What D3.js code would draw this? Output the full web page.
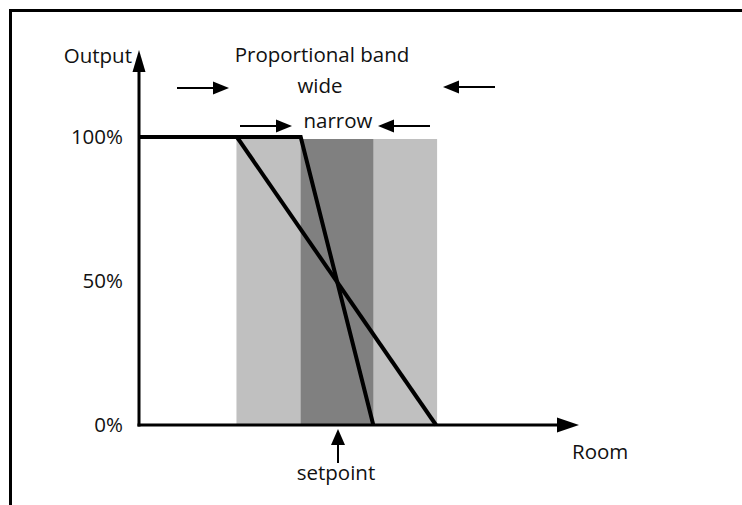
<!DOCTYPE html>
<html>
<head>
<meta charset="utf-8">
<script src="https://cdn.jsdelivr.net/npm/d3@7"></script>
<style>
  html, body { margin: 0; padding: 0; background: #fff; }
  svg { display: block; }
  text { font-family: "Open Sans", "Noto Sans", sans-serif; fill: #111; }
</style>
</head>
<body>
<svg id="chart" width="742" height="505"></svg>
<script>
// ---- data ----
const outputTicks = [0, 50, 100];
const outputTickLabels = ["0%", "50%", "100%"];
const setpoint = 0;
const wideBand = [-4.57, 4.55];
const narrowBand = [-1.65, 1.65];
const wideLine = [[-4.55, 100], [4.5, 0]];
const narrowLine = [[-9, 100], [-1.65, 100], [1.65, 0]];
const xDomain = [-9, 11];
const yDomain = [0, 100];
const yAxisTop = 130.2;

const svg = d3.select("#chart");
const x = d3.scaleLinear().domain(xDomain).range([139, 579]);
const y = d3.scaleLinear().domain(yDomain).range([425, 137]);

// frame
svg.append("line").attr("x1", 9).attr("x2", 742).attr("y1", 10.5).attr("y2", 10.5)
  .attr("stroke", "#000").attr("stroke-width", 3);
svg.append("line").attr("x1", 10.5).attr("x2", 10.5).attr("y1", 9).attr("y2", 505)
  .attr("stroke", "#000").attr("stroke-width", 3);

// bands
svg.append("rect").attr("x", x(wideBand[0])).attr("y", y(100) + 2)
  .attr("width", x(wideBand[1]) - x(wideBand[0])).attr("height", y(0) - y(100) - 2)
  .attr("fill", "#c0c0c0");
svg.append("rect").attr("x", x(narrowBand[0])).attr("y", y(100) + 2)
  .attr("width", x(narrowBand[1]) - x(narrowBand[0])).attr("height", y(0) - y(100) - 2)
  .attr("fill", "#808080");

// response lines
const line = d3.line().x(d => x(d[0])).y(d => y(d[1]));
svg.append("path").attr("d", line(wideLine)).attr("fill", "none")
  .attr("stroke", "#000").attr("stroke-width", 4);
svg.append("path").attr("d", line(narrowLine)).attr("fill", "none")
  .attr("stroke", "#000").attr("stroke-width", 4).attr("stroke-linejoin", "miter");

// axes lines with arrows
const x0 = x(xDomain[0]);
svg.append("line").attr("x1", x0).attr("x2", x0).attr("y1", y(0) + 1.5).attr("y2", y(yAxisTop) + 18)
  .attr("stroke", "#000").attr("stroke-width", 3);
svg.append("path")
  .attr("d", `M${x0},${y(yAxisTop)} L${x0 - 6.5},${y(yAxisTop) + 22} L${x0 + 6.5},${y(yAxisTop) + 22} Z`)
  .attr("fill", "#000");
svg.append("line").attr("x1", x0 - 1.5).attr("x2", x(xDomain[1]) - 18).attr("y1", y(0)).attr("y2", y(0))
  .attr("stroke", "#000").attr("stroke-width", 3);
svg.append("path")
  .attr("d", `M${x(xDomain[1])},${y(0)} L${x(xDomain[1]) - 22},${y(0) - 7.5} L${x(xDomain[1]) - 22},${y(0) + 7.5} Z`)
  .attr("fill", "#000");

// y tick labels via axis
const yAxis = d3.axisLeft(y).tickValues(outputTicks)
  .tickFormat((d, i) => outputTickLabels[i]).tickSize(0).tickPadding(16);
const ga = svg.append("g").attr("transform", `translate(${x0},0)`).call(yAxis);
ga.select(".domain").remove();
ga.selectAll("text").style("font-family", "'Open Sans', sans-serif").style("font-size", "20.5px")
  .attr("fill", "#1a1a1a");

// small arrows helper
function arrow(x1, x2, yy, head, half, w) {
  const dir = Math.sign(x2 - x1);
  svg.append("line").attr("x1", x1).attr("x2", x2 - dir * head * 0.8).attr("y1", yy).attr("y2", yy)
    .attr("stroke", "#000").attr("stroke-width", w);
  svg.append("path")
    .attr("d", `M${x2},${yy} L${x2 - dir * head},${yy - half} L${x2 - dir * head},${yy + half} Z`)
    .attr("fill", "#000");
}
arrow(177, 229, 88, 16, 6.5, 2);
arrow(495, 443, 87, 16, 6.5, 2);
arrow(240, 292, 126, 16, 6.5, 2);
arrow(430, 378, 126, 16, 6.5, 2);

// setpoint arrow (vertical)
const sx = x(setpoint) + 1;
svg.append("line").attr("x1", sx).attr("x2", sx).attr("y1", 463).attr("y2", 440)
  .attr("stroke", "#000").attr("stroke-width", 2);
svg.append("path").attr("d", `M${sx},429 L${sx - 7},445 L${sx + 7},445 Z`).attr("fill", "#000");

// texts
const fs = "20.5px";
svg.append("text").attr("x", 132).attr("y", 63).attr("text-anchor", "end").style("font-size", fs).text("Output");
svg.append("text").attr("x", 322).attr("y", 62).attr("text-anchor", "middle").style("font-size", fs).text("Proportional band");
svg.append("text").attr("x", 320).attr("y", 93).attr("text-anchor", "middle").style("font-size", fs).text("wide");
svg.append("text").attr("x", 338).attr("y", 128).attr("text-anchor", "middle").style("font-size", fs).text("narrow");
svg.append("text").attr("x", 336).attr("y", 480).attr("text-anchor", "middle").style("font-size", fs).text("setpoint");
svg.append("text").attr("x", 572).attr("y", 459).attr("text-anchor", "start").style("font-size", fs).text("Room");
</script>
</body>
</html>
